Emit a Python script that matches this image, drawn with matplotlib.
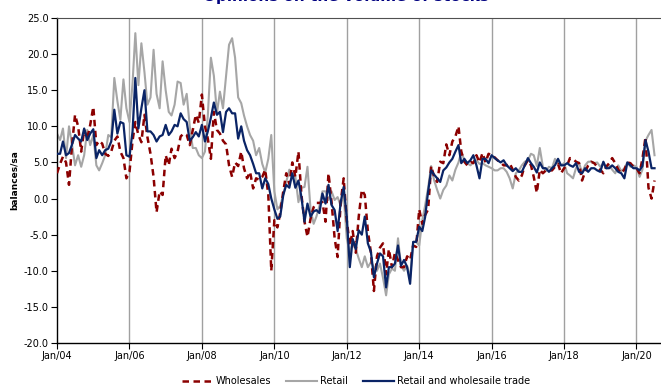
import matplotlib
matplotlib.use("Agg")
import matplotlib.pyplot as plt
from matplotlib.lines import Line2D
import pandas as pd

start_month = "2004-01-01"

retail_wholesale = [
    6.2, 6.2, 7.9, 6.0, 6.3, 7.5, 8.8, 8.3, 7.9, 9.7, 8.1, 9.0,
    9.6, 5.6, 6.7, 6.0, 6.7, 6.9, 7.9, 12.3, 9.0, 10.6, 10.4, 6.0,
    5.8, 9.3, 16.7, 9.7, 12.5, 15.0, 9.3, 9.3, 8.8, 7.9, 8.6, 8.8,
    10.2, 8.8, 9.3, 10.2, 10.0, 11.8, 11.0, 10.6, 8.0, 8.5, 9.2, 8.6,
    10.2, 7.9, 9.3, 11.2, 13.3, 11.6, 12.0, 9.2, 12.0, 12.5, 11.8, 11.8,
    8.3, 10.0, 8.0, 6.7, 6.0, 4.8, 3.5, 3.5, 1.4, 2.8, 2.0, 0.0,
    -1.5, -2.8, -2.5, 0.5, 1.9, 1.5, 3.5, 1.5, 2.5, 0.2, -3.2, -0.7,
    -2.5, -1.8, -1.6, -2.0, 0.7, -0.7, 1.9, -0.9, -1.6, -4.5, -0.5, 1.6,
    -2.5, -9.5, -5.6, -7.0, -4.4, -5.0, -2.5, -6.2, -7.4, -10.9, -9.0, -7.6,
    -8.0, -12.3, -9.5, -9.5, -9.0, -6.5, -9.3, -8.5, -9.5, -11.8, -6.0, -6.0,
    -3.9, -4.5, -2.6, 1.0, 3.9, 3.3, 2.8, 2.3, 3.9, 4.3, 5.0, 5.5,
    6.5, 7.4, 4.9, 5.5, 4.9, 5.3, 6.0, 4.6, 2.8, 5.5, 5.5, 4.9,
    6.0, 5.6, 5.3, 5.0, 5.3, 4.6, 4.2, 3.8, 4.2, 3.7, 3.7, 4.6,
    5.6, 4.9, 4.4, 3.6, 5.0, 4.2, 4.2, 3.7, 4.2, 4.6, 5.5, 4.6,
    4.6, 4.9, 4.6, 4.4, 4.9, 3.7, 3.5, 4.2, 3.7, 4.2, 4.2, 3.9,
    3.7, 5.1, 4.2, 4.2, 4.6, 4.2, 3.7, 3.5, 2.8, 5.0, 4.6, 4.2,
    4.2, 3.9, 4.5, 8.1, 6.5, 4.2, 4.2,
]

retail = [
    9.0, 8.1, 9.7, 5.6, 10.0, 7.4, 4.6, 6.0, 4.4, 6.0, 9.5, 7.4,
    8.8, 4.6, 3.9, 4.9, 6.0, 8.8, 8.5, 16.7, 13.5, 10.9, 16.5, 12.5,
    10.6, 16.0, 22.9, 15.7, 21.5, 17.5, 13.0, 14.0, 20.6, 14.5, 12.5, 19.0,
    15.0, 12.0, 11.5, 13.0, 16.2, 16.0, 13.0, 14.5, 10.0, 7.0, 7.0, 6.0,
    5.6, 6.5, 11.5, 19.5, 17.0, 11.8, 14.8, 12.5, 17.0, 21.3, 22.2, 19.5,
    14.0, 13.2, 11.5, 10.0, 8.8, 8.0, 6.0, 7.0, 4.8, 3.6, 5.5, 8.8,
    1.0, -1.5, -1.0, 0.5, 2.3, 4.0, 3.2, 3.0, -0.5, 1.5, 1.6, 4.4,
    -1.5, -3.5, -2.5, -1.0, 1.0, 1.0, -0.2, 1.0, -0.2, 0.2, -1.0, 0.5,
    -5.5, -7.6, -6.0, -7.0, -8.3, -9.5, -8.0, -9.5, -8.8, -9.5, -10.0, -9.0,
    -11.0, -13.4, -10.5, -9.7, -10.0, -5.5, -9.3, -10.0, -9.3, -11.0, -6.0, -6.0,
    -6.5, -3.0, -1.0, 1.5, 4.5, 2.5, 1.2, 0.0, 1.2, 1.8, 3.2, 2.5,
    4.0, 5.0, 6.5, 5.3, 4.9, 4.6, 5.0, 5.3, 4.8, 4.9, 4.6, 4.4,
    4.2, 3.9, 3.9, 4.2, 4.2, 3.7, 2.8, 1.4, 3.5, 3.9, 4.6, 5.1,
    5.3, 6.2, 6.0, 4.5, 7.0, 4.4, 3.8, 4.4, 4.2, 5.5, 4.9, 4.6,
    4.9, 3.5, 3.2, 2.8, 4.2, 5.0, 3.5, 4.6, 5.1, 5.1, 4.9, 5.0,
    4.4, 4.9, 4.2, 4.6, 4.0, 3.5, 4.6, 3.8, 4.2, 5.0, 4.4, 4.6,
    4.4, 3.0, 4.0, 8.0, 8.8, 9.5, 6.0,
]

wholesales = [
    3.5, 4.8, 5.8, 5.0, 1.9, 7.5, 11.6, 10.0, 6.5, 9.5, 8.3, 10.2,
    12.7, 7.4, 8.0, 7.6, 6.2, 5.9, 6.5, 8.0, 8.6, 6.5, 5.6, 2.8,
    3.7, 8.0, 10.6, 8.8, 7.8, 11.6, 8.5, 6.2, 3.0, -1.9, 1.0, 0.5,
    6.0, 4.6, 6.9, 5.6, 6.5, 8.6, 9.0, 8.8, 7.4, 9.5, 11.6, 10.5,
    14.4, 10.0, 8.3, 5.5, 12.0, 9.5, 9.0, 8.0, 7.5, 4.6, 3.0, 5.0,
    4.5, 6.5, 4.2, 2.8, 3.7, 1.4, 2.8, 2.6, 3.0, 4.0, 0.5, -10.0,
    -3.0, -4.0, -2.0, 1.0, 3.5, 2.0, 5.0, 3.0, 6.5, 0.5, -3.2, -5.3,
    -2.8, -1.2, -0.6, -0.6, -0.5, -3.2, 3.5, -0.5, -5.5, -8.1, -0.5, 2.8,
    -3.0, -6.5, -4.5, -7.5, -2.5, 1.2, 0.5, -4.5, -7.5, -12.8, -8.0, -6.8,
    -6.2, -10.5, -7.0, -9.5, -7.5, -8.5, -9.5, -9.5, -8.0, -8.5, -6.5, -6.7,
    -1.5, -3.5, -2.3, -1.5, 4.5, 3.0, 2.3, 5.1, 4.9, 7.5, 6.0, 7.9,
    8.6, 10.0, 6.5, 5.1, 4.6, 5.1, 4.9, 6.0, 5.0, 6.3, 5.0, 6.2,
    6.0, 5.7, 5.3, 5.0, 4.6, 4.6, 4.9, 4.0, 3.0, 2.5, 3.2, 4.6,
    5.3, 4.6, 3.0, 0.8, 4.0, 3.5, 3.9, 3.9, 3.9, 4.4, 4.8, 3.5,
    4.2, 4.6, 5.6, 5.5, 5.1, 4.9, 2.5, 3.7, 4.6, 5.1, 4.9, 4.4,
    4.0, 3.5, 4.4, 4.9, 5.6, 4.9, 4.0, 3.5, 4.0, 5.0, 4.9, 4.4,
    4.2, 3.5, 5.5, 8.5, 1.5, 0.0, 2.5,
]

series_labels = ["Wholesales", "Retail", "Retail and wholesaile trade"]
title = "Opinions on the volume of stocks"
y_label = "balances/sa"
y_ticks = [25, 20, 15, 10, 5, 0, -5, -10, -15, -20]
x_tick_years = [2004, 2006, 2008, 2010, 2012, 2014, 2016, 2018, 2020]

dates = pd.date_range(start_month, periods=len(retail_wholesale), freq="MS")

C_RED = "#8B0000"
C_GRAY = "#A6A6A6"
C_NAVY = "#0A2466"

plt.rcParams["font.family"] = ["DejaVu Sans"]
fig = plt.figure(figsize=(6.61, 3.89), dpi=100)
ax = fig.add_axes([57 / 661, 46 / 389, 1 - 57 / 661 + 0.01, (343 - 18) / 389])

tick_dates = [pd.Timestamp(f"{y}-01-01") for y in x_tick_years]
for d in tick_dates[1:]:
    ax.axvline(d, color="#A0A0A0", lw=1.0, zorder=1)

ax.plot(dates, retail, color=C_GRAY, lw=1.5, zorder=2)
ax.plot(dates, wholesales, color=C_RED, lw=1.8, linestyle=(0, (2.6, 1.8)), zorder=3)
ax.plot(dates, retail_wholesale, color=C_NAVY, lw=1.6, zorder=4)

ax.set_ylim(-20, 25)
ax.set_xlim(pd.Timestamp("2004-01-01"), pd.Timestamp("2020-11-10"))
ax.set_yticks(y_ticks)
ax.set_yticklabels([f"{v:.1f}" for v in y_ticks])
ax.set_xticks(tick_dates)
ax.set_xticklabels([f"Jan/{str(y)[2:]}" for y in x_tick_years])
ax.tick_params(axis="both", labelsize=7, length=4, width=0.8, direction="out", pad=2)

ax.spines["right"].set_visible(False)
ax.spines["top"].set_color("#505050")
ax.spines["left"].set_color("#000000")
ax.spines["bottom"].set_color("#000000")
ax.spines["left"].set_linewidth(1.0)
ax.spines["bottom"].set_linewidth(1.0)

fig.text(14 / 661, 1 - 180 / 389, y_label, rotation=90, fontsize=6.5,
         fontweight="bold", ha="center", va="center")
fig.text(346 / 661, 1 - 1.5 / 389, title, fontsize=11, fontweight="bold",
         color="#000080", ha="center", va="baseline")

handles = [
    Line2D([], [], color=C_RED, lw=1.8, linestyle=(0, (2.6, 1.8))),
    Line2D([], [], color=C_GRAY, lw=1.5),
    Line2D([], [], color=C_NAVY, lw=1.6),
]
fig.legend(handles, series_labels, loc="center", bbox_to_anchor=(356 / 661, 1 - 381 / 389),
           ncol=3, frameon=False, fontsize=7, handlelength=3.2, handletextpad=0.3,
           columnspacing=1.5)

fig.savefig("out.png", dpi=100)
